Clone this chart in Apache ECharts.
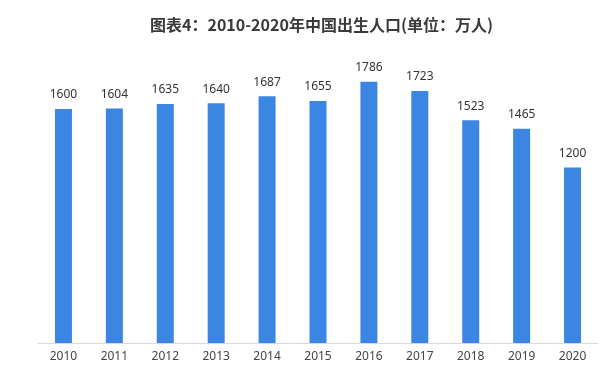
<!DOCTYPE html>
<html>
<head>
<meta charset="utf-8">
<script src="https://cdn.jsdelivr.net/npm/echarts@6/dist/echarts.min.js"></script>
<style>html,body{margin:0;padding:0;background:#fff;}#c{width:600px;height:369px;}</style>
</head>
<body>
<div id="c"></div>
<script>
var titleText = '图表4：2010-2020年中国出生人口(单位：万人)';
var categories = ['2010','2011','2012','2013','2014','2015','2016','2017','2018','2019','2020'];
var births = [1600,1604,1635,1640,1687,1655,1786,1723,1523,1465,1200];

var chart = echarts.init(document.getElementById('c'));
chart.setOption({
  animation: false,
  backgroundColor: '#ffffff',
  title: {
    text: titleText,
    left: 145, top: 12,
    textStyle: {fontFamily: 'Noto Sans CJK SC', fontSize: 16, fontWeight: 'bold', color: '#3a3a3a'}
  },
  grid: {left: 38, right: 2, top: 50.5, bottom: 26, containLabel: false},
  xAxis: {
    type: 'category', data: categories,
    axisLine: {lineStyle: {color: '#d9d9d9'}},
    axisTick: {show: false},
    axisLabel: {margin: 8, fontSize: 12, color: '#444', fontFamily: 'Noto Sans'}
  },
  yAxis: {type: 'value', min: 0, max: 2000, show: false, splitLine: {show: false}},
  series: [{
    type: 'bar', data: births, barWidth: 17,
    itemStyle: {color: '#3a86e2'},
    label: {show: true, position: 'top', distance: 8, fontSize: 12, color: '#333', fontFamily: 'Noto Sans'}
  }]
});
</script>
</body>
</html>
